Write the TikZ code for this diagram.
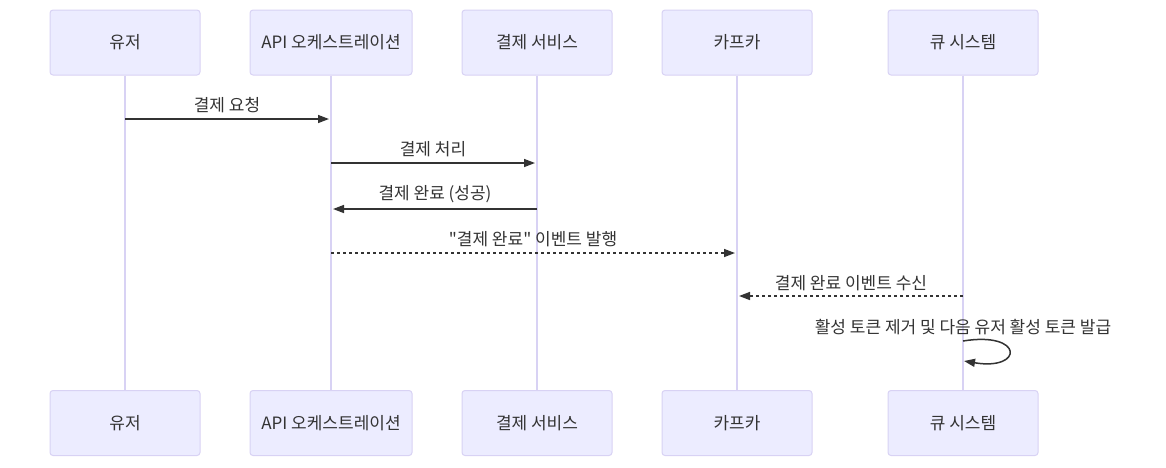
\documentclass[tikz,border=0pt]{standalone}
\usepackage{fontspec}
\setmainfont{Noto Sans CJK KR}[Ligatures=TeXOff]
\usetikzlibrary{arrows.meta}
\definecolor{actfill}{HTML}{ECECFF}
\definecolor{actline}{HTML}{D8D2F4}
\definecolor{ink}{HTML}{333333}
\tikzset{
  actor/.style={draw=actline, fill=actfill, line width=1pt, rounded corners=3pt,
    minimum width=150pt, minimum height=65pt, inner sep=0pt, text=ink,
    font=\fontsize{17}{19}\selectfont},
  lifeline/.style={draw=actline, line width=1.5pt},
  msg/.style={draw=ink, line width=1.5pt, -{Triangle[length=11pt,width=8pt]}},
  dmsg/.style={msg, dash pattern=on 3pt off 3pt},
  lbl/.style={inner sep=0pt, text=ink, font=\fontsize{17}{19}\selectfont}
}
\begin{document}
\begin{tikzpicture}[x=1pt,y=-1pt]
\useasboundingbox (0,0) rectangle (1166,467);
% top actors
\node[actor] (u)  at (125,42.5) {유저};
\node[actor, minimum width=162pt] (a) at (331,42.5) {API 오케스트레이션};
\node[actor] (p)  at (537,42.5) {결제 서비스};
\node[actor] (k)  at (737,42.5) {카프카};
\node[actor] (q)  at (963,42.5) {큐 시스템};
% bottom actors
\node[actor] (u2) at (125,423) {유저};
\node[actor, minimum width=162pt] (a2) at (331,423) {API 오케스트레이션};
\node[actor] (p2) at (537,423) {결제 서비스};
\node[actor] (k2) at (737,423) {카프카};
\node[actor] (q2) at (963,423) {큐 시스템};
% lifelines
\draw[lifeline] (u.south) -- (u2.north);
\draw[lifeline] (a.south) -- (a2.north);
\draw[lifeline] (p.south) -- (p2.north);
\draw[lifeline] (k.south) -- (k2.north);
\draw[lifeline] (q.south) -- (q2.north);
% message anchors
\coordinate (m1s) at (125,119); \coordinate (m1e) at (329,119);
\coordinate (m2s) at (331,163); \coordinate (m2e) at (535,163);
\coordinate (m3s) at (537,209); \coordinate (m3e) at (333,209);
\coordinate (m4s) at (331,253); \coordinate (m4e) at (735,253);
\coordinate (m5s) at (963,296); \coordinate (m5e) at (739,296);
\coordinate (m6s) at (963,341); \coordinate (m6e) at (964,361);
% messages
\draw[msg] (m1s) -- (m1e);
\node[lbl] (l1) at (227,105) {결제 요청};
\draw[msg] (m2s) -- (m2e);
\node[lbl] (l2) at (433,149) {결제 처리};
\draw[msg] (m3s) -- (m3e);
\node[lbl] (l3) at (435,194) {결제 완료 (성공)};
\draw[dmsg] (m4s) -- (m4e);
\node[lbl] (l4) at (533,239) {"결제 완료" 이벤트 발행};
\draw[dmsg] (m5s) -- (m5e);
\node[lbl] (l5) at (851,283) {결제 완료 이벤트 수신};
\draw[msg] (m6s) .. controls (1024,331) and (1024,371) .. (m6e);
\node[lbl] (l6) at (963,327) {활성 토큰 제거 및 다음 유저 활성 토큰 발급};
\end{tikzpicture}
\end{document}
